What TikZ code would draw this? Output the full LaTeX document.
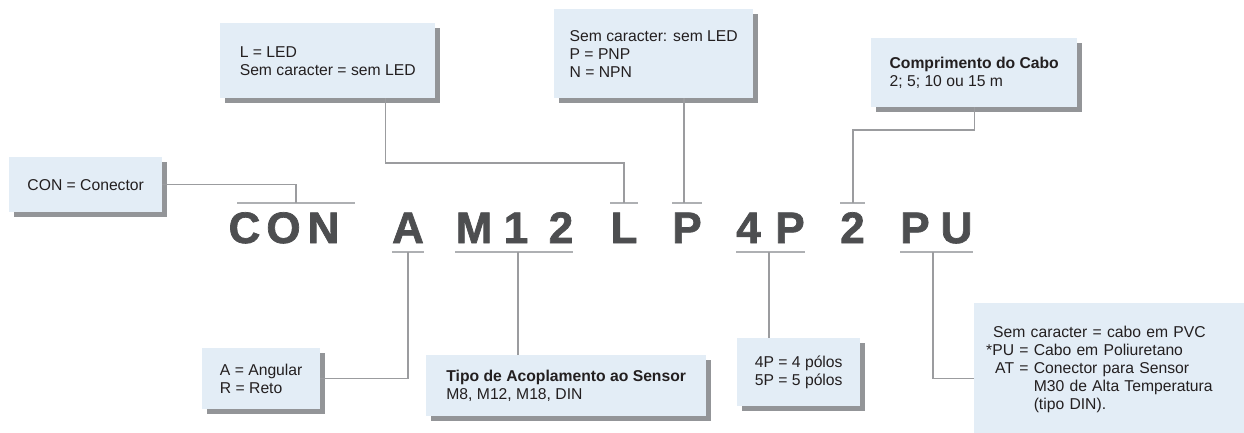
\documentclass[tikz,border=0pt]{standalone}
\usepackage{fontspec}
\setmainfont{Liberation Sans}
\newfontfamily\codefont{Liberation Sans}[BoldFeatures={FakeBold=1.6}]
\usetikzlibrary{shadows}
\definecolor{boxfill}{HTML}{E3EDF6}
\definecolor{shadegray}{HTML}{939598}
\definecolor{linegray}{HTML}{9B9C9F}
\definecolor{bargray}{HTML}{AEB0B3}
\definecolor{codegray}{HTML}{4D4E50}
\definecolor{textcol}{HTML}{231F20}
\begin{document}
\begin{tikzpicture}[x=1pt,y=-1pt,
 info/.style={rectangle,fill=boxfill,anchor=north west,align=left,inner sep=0pt,text=textcol,
  font=\fontsize{15.7pt}{18pt}\selectfont,
  drop shadow={shadow xshift=5pt,shadow yshift=-5pt,fill=shadegray,opacity=1}},
 codechar/.style={inner sep=0pt,anchor=base,text height=32pt,text depth=0pt,text=codegray,
  font=\codefont\bfseries\fontsize{44pt}{44pt}\selectfont},
 link/.style={draw=linegray,line width=1.4pt},
 bar/.style={draw=bargray,line width=2pt}]
 \useasboundingbox (0,0) rectangle (1244,432);
 \clip (0,0) rectangle (1244,432);
 \node[info,minimum width=153pt,minimum height=55pt] (conbox) at (9,157) {CON = Conector};
 \node[info,minimum width=215pt,minimum height=75pt] (ledbox) at (220,23) {L = LED\\Sem caracter = sem LED};
 \node[info,minimum width=199pt,minimum height=89pt] (pnpbox) at (554,9) {Sem caracter: sem LED\\P = PNP\\N = NPN};
 \node[info,minimum width=206pt,minimum height=69pt] (cabobox) at (871,38) {\textbf{Comprimento do Cabo}\\2; 5; 10 ou 15 m};
 \node[info,minimum width=118pt,minimum height=61pt] (angbox) at (202,348) {A = Angular\\R = Reto};
 \node[info,minimum width=280pt,minimum height=61pt] (tipobox) at (426,355) {\textbf{Tipo de Acoplamento ao Sensor}\\M8, M12, M18, DIN};
 \node[info,minimum width=123pt,minimum height=68pt] (polbox) at (737,338) {4P = 4 pólos\\5P = 5 pólos};
 \node[info,inner xsep=12pt,text width=268pt,minimum height=133pt] (pubox) at (974,303) {%
  \begin{tabular}{@{}r@{}l@{}}
   \multicolumn{2}{@{}l@{}}{\hspace{7pt}Sem caracter = cabo em PVC}\\
   \relax*PU & \ = Cabo em Poliuretano\\
   AT & \ = Conector para Sensor\\
   & \phantom{\ = }M30 de Alta Temperatura\\
   & \phantom{\ = }(tipo DIN).
  \end{tabular}};
 \foreach \ch/\x/\nm in {C/244.5/con1,O/283.5/con2,N/323.5/con3,A/408/ang,M/474/mm1,1/516/mm2,2/561/mm3,
   L/624/led,P/687/pnp,4/748.5/pol1,P/790/pol2,2/852.5/cab,P/915/pu1,U/956.5/pu2}
  \node[codechar] (\nm) at (\x,243) {\ch};
 \draw[bar] ([xshift=9pt,yshift=8pt]con1.north west) -- ([xshift=15pt,yshift=8pt]con3.north east);
 \draw[bar] ([yshift=-9pt]ang.south west) -- ([yshift=-9pt]ang.south east);
 \draw[bar] ([yshift=-9pt]mm1.south west) -- ([yshift=-9pt]mm3.south east);
 \draw[bar] ([yshift=8pt]led.north west) -- ([yshift=8pt]led.north east);
 \draw[bar] ([yshift=8pt]pnp.north west) -- ([yshift=8pt]pnp.north east);
 \draw[bar] ([yshift=-9pt]pol1.south west) -- ([yshift=-9pt]pol2.south east);
 \draw[bar] ([yshift=8pt]cab.north west) -- ([yshift=8pt]cab.north east);
 \draw[bar] ([yshift=-9pt]pu1.south west) -- ([yshift=-9pt]pu2.south east);
 \coordinate (contap) at (296,203); \coordinate (angtap) at (408,252);
 \coordinate (mmtap) at (518,252); \coordinate (ledtap) at (624,203);
 \coordinate (pnptap) at (684,203); \coordinate (poltap) at (769,252);
 \coordinate (cabtap) at (853,203); \coordinate (putap) at (933,252);
 \draw[link] (conbox.east) -| (contap);
 \draw[link] ([xshift=-50pt]ledbox.south east) |- ([yshift=40pt]ledtap) -- (ledtap);
 \draw[link] (pnpbox.south -| pnptap) -- (pnptap);
 \draw[link] (cabobox.south) |- ([yshift=73pt]cabtap) -- (cabtap);
 \draw[link] (angbox.east) -| (angtap);
 \draw[link] (mmtap) -- (mmtap |- tipobox.north);
 \draw[link] (poltap) -- (poltap |- polbox.north);
 \draw[link] (putap) |- ([yshift=-8.5pt]pubox.west);
\end{tikzpicture}
\end{document}
